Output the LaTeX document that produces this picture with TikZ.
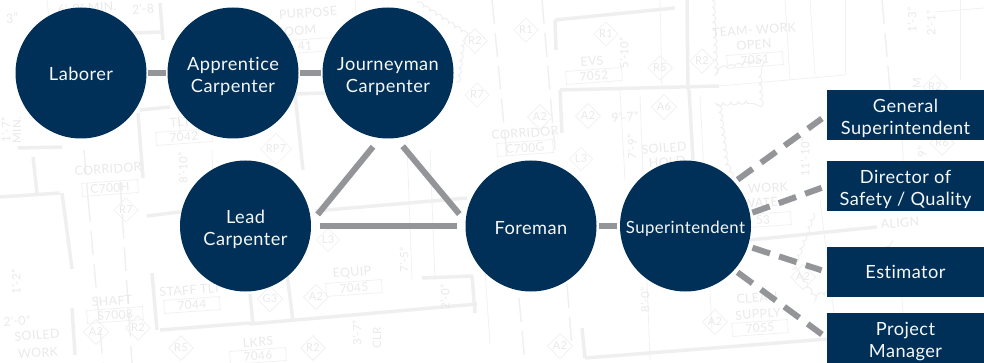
\documentclass[tikz,border=0pt]{standalone}
\usepackage{fontspec}
\setmainfont{Lato}[LetterSpace=2.5,Ligatures=NoCommon]
\usetikzlibrary{shapes.geometric,decorations.pathmorphing}
\definecolor{navy}{HTML}{003057}
\definecolor{connector}{HTML}{939598}
\definecolor{planwall}{HTML}{EFEFEF}
\definecolor{planline}{HTML}{F1F1F1}
\definecolor{plantext}{HTML}{E9E9E9}
\newcommand\rolelabel[2]{\raisebox{-#1pt}[\height][\depth]{\begin{tabular}{@{}c@{}}#2\end{tabular}}}
\tikzset{
  rolecircle/.style={circle,fill=navy,text=white!96!navy,minimum size=131pt,inner sep=0pt,font=\fontsize{18.2}{22}\selectfont},
  rolebox/.style={rectangle,fill=navy,text=white!96!navy,minimum width=157pt,minimum height=50pt,inner sep=0pt,font=\fontsize{18.2}{22}\selectfont},
  solidlink/.style={draw=connector,line width=6pt},
  dashlong/.style={draw=connector,line width=6pt,dash pattern=on 18.6pt off 10.4pt},
  dashshort/.style={draw=connector,line width=6pt,dash pattern=on 18.4pt off 9.6pt},
  wall/.style={draw=planwall,line width=3.5pt},
  thinwall/.style={draw=planline,line width=0.8pt},
  colline/.style={draw=planwall,line width=1.4pt,dash pattern=on 24pt off 9pt},
  cloudline/.style={draw=planwall,line width=1pt,decorate,decoration={bumps,segment length=15pt,amplitude=3pt}},
  plantag/.style={diamond,draw=planline,line width=0.8pt,text=plantext,inner sep=0.8pt,aspect=1,font=\fontsize{11}{11}\selectfont},
  planlabel/.style={text=plantext,inner sep=0pt,rotate=4,font=\fontsize{12.5}{12}\selectfont},
  plandim/.style={text=plantext,inner sep=0pt,rotate=90,font=\fontsize{11.5}{12}\selectfont},
  plannum/.style={draw=planline,line width=0.8pt,text=plantext,inner sep=1.5pt,minimum width=56pt,minimum height=13pt,rotate=4,font=\fontsize{12}{12}\selectfont},
}
\begin{document}
\begin{tikzpicture}[x=1pt,y=-1pt]
\useasboundingbox (0,0) rectangle (984,363);
% faded floor plan
\foreach \a/\b/\c/\d in {560/90/719/86,689/90/693/160,560/90/562/133,555/20/675/8,582/328/585/358,585/358/828/339,750/240/877/227,0/197/60/193,33/157/37/193,62/193/72/269,18/148/62/147,138/113/143/178,140/110/170/107,295/94/325/93,295/94/303/170,160/330/250/323,152/273/157/330,250/294/253/324,287/274/293/321,250/324/477/304,422/278/473/276,472/276/475/313,147/216/187/211,315/211/467/198,72/308/75/355,160/3/163/40,50/36/163/32,687/0/688/90,555/20/556/50}
  \draw[wall] (\a,\b) -- (\c,\d);
\foreach \a/\b/\c/\d in {719/86/845/75,845/75/845/0,790/80/785/0,815/75/810/0,47/0/50/30,178/100/180/135,212/150/216/280,405/90/412/280,430/150/435/280,640/95/650/360,700/96/712/330,480/195/490/345,900/90/905/200,960/80/960/0,935/12/984/8,820/200/840/363,355/0/357/30,660/0/662/88,620/90/625/180,900/270/905/340}
  \draw[thinwall] (\a,\b) -- (\c,\d);
\foreach \a/\b/\c/\d in {88/198/103/363,120/181/132/363,492/0/507/157,542/0/555/150,519/298/525/363,567/284/572/348,882/0/890/90,84/150/88/198}
  \draw[colline] (\a,\b) -- (\c,\d);
\draw[cloudline] (712,0) -- (715,70) -- (758,63) -- (760,100) -- (718,103) -- (725,160) -- (732,180);
\draw[cloudline] (417,3) -- (463,33) -- (457,83);
\draw[cloudline] (813,213) -- (793,267) -- (813,297) -- (867,287) -- (893,240);
\foreach \x/\y/\t [count=\i] in {475/41/R2,477/95/R7,526/30/R1,606/34/R1,660/68/R5,702/61/R2,540/117/A2,588/116/A2,664/107/A6,581/159/L3,276/149/RP7,126/210/R7,328/240/L3,316/297/A2,270/299/G3,96/332/A2,138/328/R2,181/348/R5,313/348/R2,803/277/A2,715/322/A2,560/346/A2,942/143/R6,935/87/R2}
  \node[plantag] (tag\i) at (\x,\y) {\t};
\foreach \x/\y/\t [count=\i] in {87/8/6'-0" MIN.,143/9/2'-8,12/18/3",308/13/PURPOSE,296/31/ROOM,180/122/TLT,108/169/CORRIDOR,190/290/STAFF TLT,112/301/SHAFT,17/321/2'-0",37/335/SOILED,38/353/WORK,258/342/LKRS,352/273/EQUIP,525/133/CORRIDOR,592/61/EVS,625/117/9'-7",664/148/SOILED,667/162/HOLD,754/30/TEAM- WORK,754/45/OPEN,768/188/WORK,760/203/WATE,900/223/ALIGN,757/298/CLEAN,758/314/SUPPLY}
  \node[planlabel] (lab\i) at (\x,\y) {\t};
\foreach \x/\y/\t [count=\i] in {17/130/MIN.,6/130/1'-7",183/168/8'-10",16/282/1'-2",357/333/3'-7",377/338/CLR,404/260/7'-5",445/297/2'-0",632/147/7'-9",624/53/5'-10",805/157/11'-10",645/300/8'-0",922/152/9",912/20/1'-3",931/23/2'-1",917/83/M}
  \node[plandim] (dim\i) at (\x,\y) {\t};
\foreach \x/\y/\t [count=\i] in {305/46/41,184/137/7042,110/188/C700H,192/305/7044,115/315/S7008,354/288/7045,258/356/7046,525/148/C700G,594/76/7052,755/60/7051,763/220/53,760/328/7055}
  \node[plannum] (num\i) at (\x,\y) {\t};
% role nodes
\node[rolecircle] (laborer) at (81,73) {\rolelabel{3.5}{Laborer}};
\node[rolecircle] (apprentice) at (233,73) {\rolelabel{4.5}{Apprentice\\Carpenter}};
\node[rolecircle] (journeyman) at (388,73) {\rolelabel{4.5}{Journeyman\\Carpenter}};
\node[rolecircle] (lead) at (245.5,226) {\rolelabel{4.5}{Lead\\Carpenter}};
\node[rolecircle] (foreman) at (531,226) {\rolelabel{4}{Foreman}};
\node[rolecircle,font=\fontsize{16.8}{22}\selectfont] (super) at (685.5,226) {\rolelabel{3.5}{Superintendent}};
\node[rolebox] (general) at (905.5,115) {\rolelabel{4.5}{General\\Superintendent}};
\node[rolebox] (director) at (905.5,186) {\rolelabel{4.5}{Director of\\Safety / Quality}};
\node[rolebox] (estimator) at (905.5,272) {\rolelabel{2}{Estimator}};
\node[rolebox] (pm) at (905.5,338) {\rolelabel{4.5}{Project\\Manager}};
% connectors
\draw[solidlink,shorten <=1pt,shorten >=1pt] (laborer) -- (apprentice);
\draw[solidlink,shorten <=1pt,shorten >=1pt] (apprentice) -- (journeyman);
\draw[solidlink,shorten <=11pt,shorten >=10.4pt] (journeyman.263) -- (lead.3.5);
\draw[solidlink,shorten <=10.4pt,shorten >=9.6pt] (journeyman.277) -- (foreman.176);
\draw[solidlink,shorten <=8.5pt,shorten >=8.5pt] (lead) -- (foreman);
\draw[solidlink,shorten <=2.5pt,shorten >=2.5pt] (foreman) -- (super);
\draw[dashlong,shorten <=4pt,shorten >=6pt] (super.42) -- (general.west);
\draw[dashshort,shorten <=2.5pt,shorten >=5.5pt] (super.11.4) -- (director.west);
\draw[dashshort,shorten <=4.7pt,shorten >=5.5pt] (super.-18.1) -- (estimator.west);
\draw[dashlong,shorten <=4pt,shorten >=6pt] (super.-42.4) -- (pm.west);
\end{tikzpicture}
\end{document}
